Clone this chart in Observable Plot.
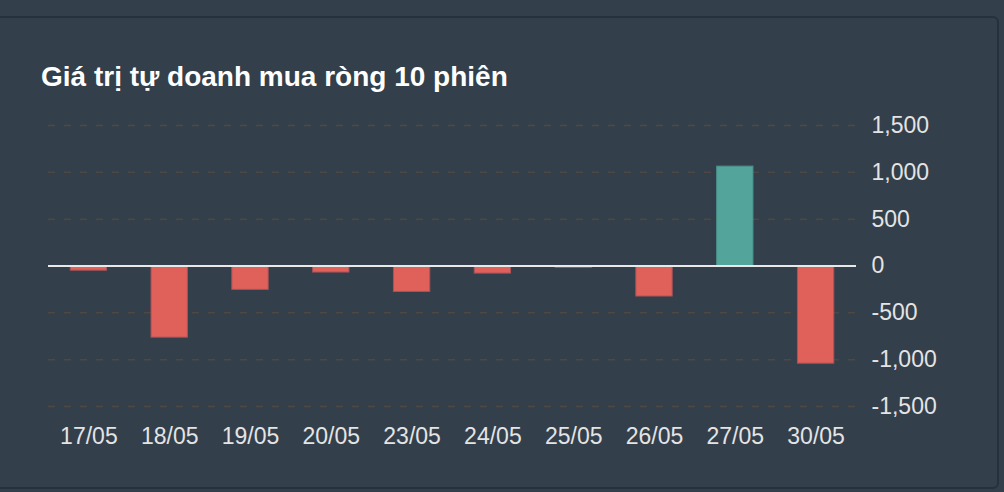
<!DOCTYPE html>
<html>
<head>
<meta charset="utf-8">
<script src="https://cdn.jsdelivr.net/npm/d3@7"></script>
<script src="https://cdn.jsdelivr.net/npm/@observablehq/plot@0.6"></script>
<style>
  html, body { margin: 0; padding: 0; background: #333f4b; overflow: hidden; }
  #wrap { position: relative; width: 1004px; height: 492px; font-family: "Liberation Sans", Arial, Helvetica, sans-serif; }
  #panel { position: absolute; left: -10px; top: 16px; width: 1005px; height: 469px; border: 2px solid #27313b; border-radius: 6px; }
  #title { position: absolute; left: 41px; top: 63px; color: #ffffff; font-weight: bold; font-size: 28px; line-height: 28px; white-space: nowrap; }
  #chart { position: absolute; left: 0; top: 0; }
</style>
</head>
<body>
<div id="wrap">
  <div id="panel"></div>
  <div id="chart"></div>
  <div id="title">Giá trị tự doanh mua ròng 10 phiên</div>
</div>
<script>
const dates = ["17/05", "18/05", "19/05", "20/05", "23/05", "24/05", "25/05", "26/05", "27/05", "30/05"];
const values = [-50, -765, -255, -70, -277, -81, -20, -326, 1061, -1043];
const yTicks = [-1500, -1000, -500, 0, 500, 1000, 1500];

const POS = "#53a59b", NEG = "#e0605a";
const POS_STROKE = "#4a8f88", NEG_STROKE = "#a9525a";

const data = dates.map((d, i) => ({date: d, value: values[i]}));
const fmt = d => (d < 0 ? "-" : "") + d3.format(",")(Math.abs(d));

const chart = Plot.plot({
  width: 1004,
  height: 492,
  marginLeft: 48,
  marginRight: 148,
  marginTop: 125,
  marginBottom: 86,
  style: {background: "transparent", color: "#e4e4e4", fontSize: "23px", fontFamily: "'Liberation Sans', Arial, Helvetica, sans-serif"},
  x: {domain: dates, paddingInner: 0.55, paddingOuter: 0.275, round: false, label: null},
  y: {domain: [-1500, 1500], label: null},
  color: {type: "identity"},
  marks: [
    Plot.ruleY(yTicks.filter(d => d !== 0), {stroke: "#4f4842", strokeWidth: 1.5, strokeDasharray: "7,9"}),
    Plot.barY(data, {
      x: "date", y: "value",
      fill: d => d.value >= 0 ? POS : NEG,
      stroke: d => d.value >= 0 ? POS_STROKE : NEG_STROKE,
      strokeWidth: 1
    }),
    Plot.ruleY([0], {stroke: "#e8e8e8", strokeWidth: 2}),
    Plot.axisY({anchor: "right", ticks: yTicks, tickSize: 0, tickPadding: 15, tickFormat: fmt, label: null}),
    Plot.axisX({anchor: "bottom", tickSize: 0, tickPadding: 21, label: null})
  ]
});
document.getElementById("chart").appendChild(chart);
</script>
</body>
</html>
